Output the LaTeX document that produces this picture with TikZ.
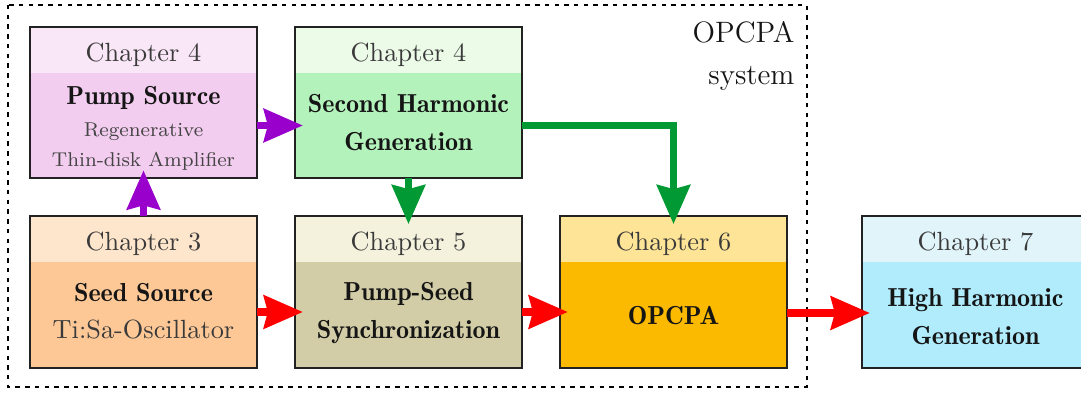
\documentclass[tikz,border=0pt]{standalone}
\usetikzlibrary{arrows.meta,calc}
\definecolor{pumpH}{HTML}{F9E6F6}
\definecolor{pumpB}{HTML}{F3CDEF}
\definecolor{shgH}{HTML}{ECFAE8}
\definecolor{shgB}{HTML}{B4F2BC}
\definecolor{seedH}{HTML}{FEE6CC}
\definecolor{seedB}{HTML}{FDC896}
\definecolor{syncH}{HTML}{F4F2DC}
\definecolor{syncB}{HTML}{D2CDA6}
\definecolor{opcH}{HTML}{FEE496}
\definecolor{opcB}{HTML}{FBBA00}
\definecolor{hhgH}{HTML}{E0F4FA}
\definecolor{hhgB}{HTML}{B0ECFC}
\definecolor{bordercol}{HTML}{222222}
\definecolor{purplearr}{HTML}{9900CC}
\definecolor{greenarr}{HTML}{009933}
\definecolor{redarr}{HTML}{FF0000}
\definecolor{chapgray}{HTML}{3A3A3A}
\definecolor{smallgray}{HTML}{444444}
\definecolor{boldtext}{HTML}{151515}
\begin{document}
\begin{tikzpicture}[x=0.38pt,y=-0.38pt,
  chapbox/.style 2 args={draw=bordercol, line width=0.76pt, fill=#2,
    minimum width=86.26pt, minimum height=57.57pt, inner sep=0pt, outer sep=0pt,
    path picture={\fill[#1] (path picture bounding box.north west) rectangle
      ([yshift=-17.48pt]path picture bounding box.north east);}},
  chaptext/.style={anchor=base, inner sep=0pt, text=chapgray, font=\fontsize{10}{12}\selectfont},
  bodytext/.style={inner sep=0pt, align=center, text=boldtext,
    font=\fontsize{9.9}{14.4}\fontseries{b}\selectfont},
  arr/.style={line width=2.85pt, -{Stealth[length=14.8pt,width=12.5pt,inset=1.5pt]},
    shorten >=-3pt, line join=miter},
  framestyle/.style={draw=black, line width=0.76pt, dash pattern=on 1.7pt off 2pt}
]
\useasboundingbox (0,0) rectangle (1081,393);
\clip (0,0) rectangle (1081,393);

% frame
\draw[framestyle] (8,5) rectangle (807,387);
\node[anchor=north east, inner sep=0pt, align=right, text=boldtext,
  font=\fontsize{11.2}{16}\selectfont] (label) at (795,21) {OPCPA\\system};

% boxes
\node[chapbox={pumpH}{pumpB}] (pump) at (143.5,102.5) {};
\node[chapbox={shgH}{shgB}] (shg) at (408.5,102.5) {};
\node[chapbox={seedH}{seedB}] (seed) at (143.5,292) {};
\node[chapbox={syncH}{syncB}] (sync) at (408.5,292) {};
\node[chapbox={opcH}{opcB}] (opc) at (673.5,292) {};
\node[chapbox={hhgH}{hhgB}] (hhg) at (975.5,292) {};

% chapter labels
\node[chaptext] (pumpC) at ($(pump.north)+(0,34.5)$) {Chapter 4};
\node[chaptext] (shgC) at ($(shg.north)+(0,34.5)$) {Chapter 4};
\node[chaptext] (seedC) at ($(seed.north)+(0,34.5)$) {Chapter 3};
\node[chaptext] (syncC) at ($(sync.north)+(0,34.5)$) {Chapter 5};
\node[chaptext] (opcC) at ($(opc.north)+(0,34.5)$) {Chapter 6};
\node[chaptext] (hhgC) at ($(hhg.north)+(0,34.5)$) {Chapter 7};

% body texts
\node[bodytext, font=\fontsize{7.6}{11.4}\selectfont] (pumpT) at ($(pump.north)+(0,101.5)$)
  {{\color{boldtext}\fontsize{9.9}{12}\fontseries{b}\selectfont Pump Source}\\[0.8pt]
   {\color{smallgray}Regenerative}\\{\color{smallgray}Thin-disk Amplifier}};
\node[bodytext] (shgT) at ($(shg.north)+(0,95.5)$) {Second Harmonic\\Generation};
\node[bodytext] (seedT) at ($(seed.north)+(0,95)$)
  {Seed Source\\{\fontsize{10}{12}\fontseries{m}\selectfont\color{chapgray}Ti:Sa-Oscillator}};
\node[bodytext] (syncT) at ($(sync.north)+(0,97)$) {Pump-Seed\\Synchronization};
\node[bodytext] (opcT) at ($(opc.north)+(0,99)$) {OPCPA};
\node[bodytext] (hhgT) at ($(hhg.north)+(0,100)$) {High Harmonic\\Generation};

% arrows
\draw[arr, purplearr] ($(pump.east)+(0,23)$) -- ($(shg.west)+(0,23)$);
\draw[arr, purplearr] (seed.north) -- (pump.south);
\draw[arr, greenarr] (shg.south) -- (sync.north);
\draw[arr, greenarr] ($(shg.east)+(0,23)$) -| (opc.north);
\draw[arr, redarr] ($(seed.east)+(0,20)$) -- ($(sync.west)+(0,20)$);
\draw[arr, redarr] ($(sync.east)+(0,20)$) -- ($(opc.west)+(0,20)$);
\draw[arr, redarr] ($(opc.east)+(0,21)$) -- ($(hhg.west)+(0,21)$);
\end{tikzpicture}
\end{document}
